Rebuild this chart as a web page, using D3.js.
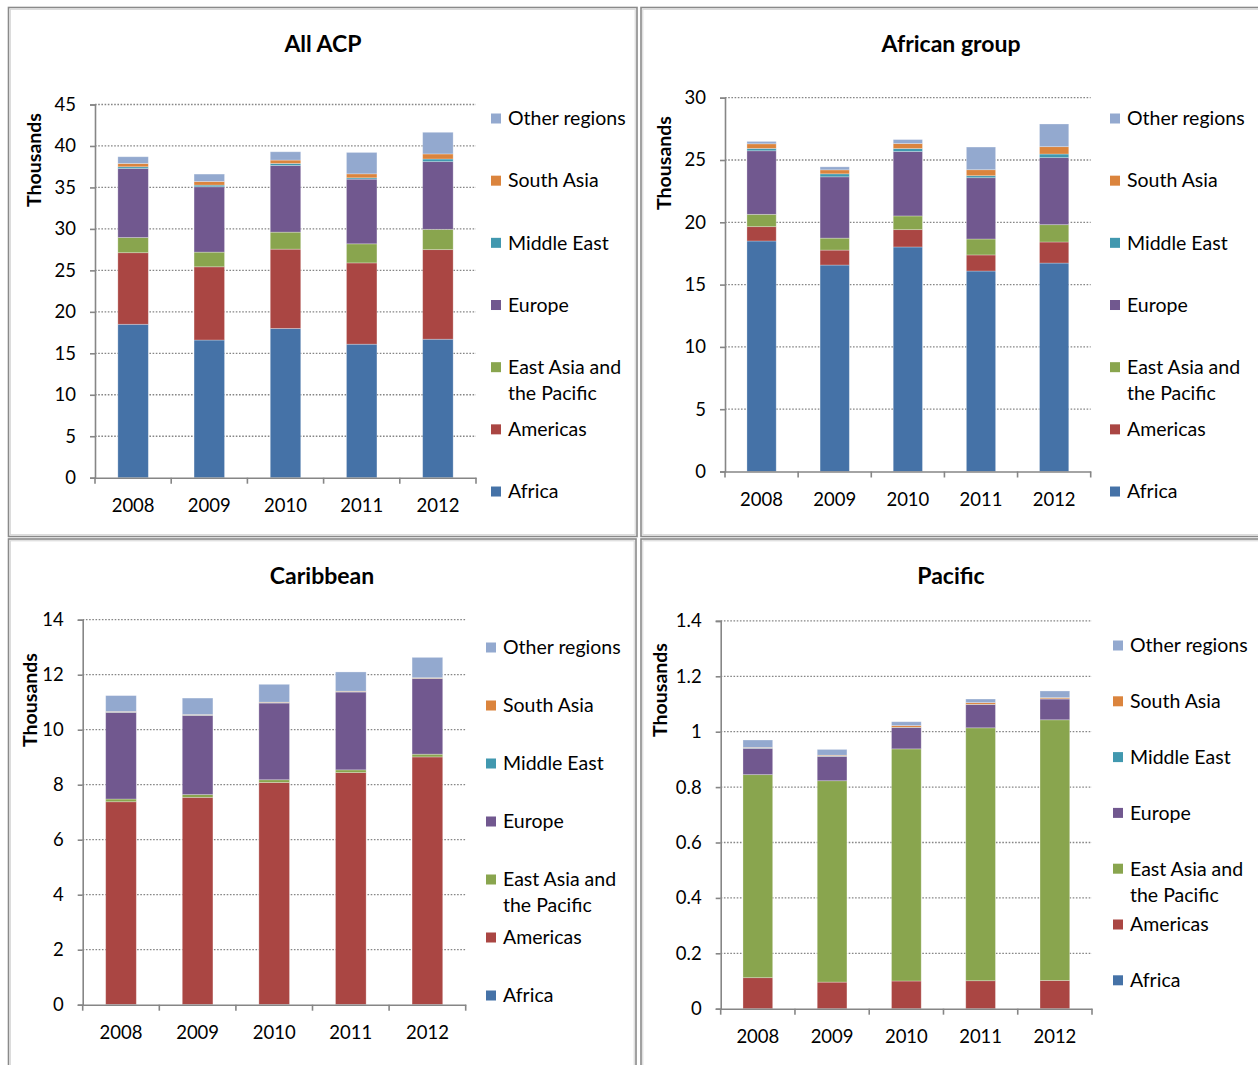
<!DOCTYPE html>
<html>
<head>
<meta charset="utf-8">
<script src="https://cdn.jsdelivr.net/npm/d3@7"></script>
<style>
  html, body { margin: 0; padding: 0; background: #fff; }
  svg { display: block; font-family: Lato, "Open Sans", sans-serif; }
</style>
</head>
<body>
<svg id="chart" width="1258" height="1065"></svg>
<script>
// Years on the category axis
const years = ["2008", "2009", "2010", "2011", "2012"];

// Stack order, bottom to top
const seriesNames = ["Africa", "Americas", "East Asia and the Pacific", "Europe", "Middle East", "South Asia", "Other regions"];

// All ACP (thousands)
const acpAfrica   = [18.5, 16.6, 18.0, 16.1, 16.7];
const acpAmericas = [8.63, 8.83, 9.56, 9.8, 10.8];
const acpEastAsia = [1.83, 1.77, 2.05, 2.3, 2.45];
const acpEurope   = [8.32, 7.88, 8.04, 7.8, 8.16];
const acpMidEast  = [0.21, 0.2, 0.24, 0.16, 0.32];
const acpSouthAsia= [0.4, 0.44, 0.41, 0.48, 0.61];
const acpOther    = [0.81, 0.89, 1.0, 2.58, 2.61];

// African group (thousands)
const afrAfrica   = [18.5, 16.57, 18.02, 16.09, 16.73];
const afrAmericas = [1.15, 1.2, 1.39, 1.29, 1.69];
const afrEastAsia = [0.99, 0.96, 1.1, 1.28, 1.39];
const afrEurope   = [5.1, 4.92, 5.17, 4.92, 5.38];
const afrMidEast  = [0.19, 0.24, 0.24, 0.16, 0.29];
const afrSouthAsia= [0.37, 0.32, 0.4, 0.48, 0.59];
const afrOther    = [0.19, 0.24, 0.32, 1.82, 1.82];

// Caribbean (thousands)
const carAfrica   = [0.01, 0.01, 0.01, 0.01, 0.01];
const carAmericas = [7.37, 7.53, 8.07, 8.43, 9.0];
const carEastAsia = [0.1, 0.1, 0.1, 0.1, 0.1];
const carEurope   = [3.15, 2.88, 2.79, 2.83, 2.75];
const carMidEast  = [0.01, 0.01, 0.01, 0.01, 0.01];
const carSouthAsia= [0.02, 0.02, 0.02, 0.02, 0.02];
const carOther    = [0.58, 0.6, 0.65, 0.7, 0.74];

// Pacific (thousands)
const pacAfrica   = [0.0, 0.0, 0.0, 0.0, 0.0];
const pacAmericas = [0.112, 0.096, 0.1, 0.101, 0.102];
const pacEastAsia = [0.733, 0.727, 0.838, 0.913, 0.941];
const pacEurope   = [0.095, 0.088, 0.077, 0.084, 0.075];
const pacMidEast  = [0.001, 0.001, 0.001, 0.001, 0.001];
const pacSouthAsia= [0.002, 0.003, 0.006, 0.006, 0.004];
const pacOther    = [0.027, 0.021, 0.014, 0.013, 0.024];

const colors = {
  "Africa": "#4572A7",
  "Americas": "#AA4643",
  "East Asia and the Pacific": "#89A54E",
  "Europe": "#71588F",
  "Middle East": "#4198AF",
  "South Asia": "#DB843D",
  "Other regions": "#93A9CF"
};

function rows(series) {
  return years.map((y, i) => {
    const r = { year: y };
    seriesNames.forEach((s, k) => { r[s] = series[k][i]; });
    return r;
  });
}

const panels = [
  { title: "All ACP", data: rows([acpAfrica, acpAmericas, acpEastAsia, acpEurope, acpMidEast, acpSouthAsia, acpOther]),
    max: 45, step: 5, fmt: d3.format("d"),
    left: 95, right: 476, bottom: 477.7, top: 104.5,
    titleX: 323, titleY: 44, yTitleX: 34, yTitleY: 160,
    legendX: 491, legendY: 118.5, legendStep: 62.17,
    frame: [8.5, 7.5, 628.5, 529] },
  { title: "African group", data: rows([afrAfrica, afrAmericas, afrEastAsia, afrEurope, afrMidEast, afrSouthAsia, afrOther]),
    max: 30, step: 5, fmt: d3.format("d"),
    left: 725, right: 1090.7, bottom: 471.5, top: 97.7,
    titleX: 951, titleY: 44, yTitleX: 664, yTitleY: 163,
    legendX: 1110, legendY: 118.5, legendStep: 62.17,
    frame: [641, 7.5, 630, 529] },
  { title: "Caribbean", data: rows([carAfrica, carAmericas, carEastAsia, carEurope, carMidEast, carSouthAsia, carOther]),
    max: 14, step: 2, fmt: d3.format("d"),
    left: 82.7, right: 465.7, bottom: 1004.7, top: 619.7,
    titleX: 322, titleY: 576, yTitleX: 30, yTitleY: 700,
    legendX: 486, legendY: 647.5, legendStep: 58,
    frame: [8.5, 539, 627.5, 540] },
  { title: "Pacific", data: rows([pacAfrica, pacAmericas, pacEastAsia, pacEurope, pacMidEast, pacSouthAsia, pacOther]),
    max: 1.4, step: 0.2, fmt: d => (+d.toFixed(1)).toString(),
    left: 720.7, right: 1092, bottom: 1008.7, top: 620.9,
    titleX: 951, titleY: 576, yTitleX: 660, yTitleY: 690,
    legendX: 1113, legendY: 645.5, legendStep: 55.8,
    frame: [641, 539, 630, 540] }
];

const svg = d3.select("#chart");
const stack = d3.stack().keys(seriesNames);
const axisColor = "#868686";

panels.forEach(p => {
  const g = svg.append("g");

  // Frame: dark outer line with a pale inner line
  const [fx, fy, fw, fh] = p.frame;
  g.append("rect").attr("x", fx).attr("y", fy).attr("width", fw).attr("height", fh)
    .attr("fill", "none").attr("stroke", "#8a8a8a").attr("stroke-width", 1.6);
  g.append("rect").attr("x", fx + 1.8).attr("y", fy + 1.8).attr("width", fw - 3.6).attr("height", fh - 3.6)
    .attr("fill", "none").attr("stroke", "#d4d4d4").attr("stroke-width", 1);

  const x = d3.scaleBand().domain(years).range([p.left, p.right]).paddingInner(0.6).paddingOuter(0.3);
  const y = d3.scaleLinear().domain([0, p.max]).range([p.bottom, p.top]);
  const ticks = d3.range(0, Math.round(p.max / p.step) + 1).map(i => +(i * p.step).toFixed(2));

  // Dotted gridlines
  g.append("g").selectAll("line").data(ticks.slice(1)).join("line")
    .attr("x1", p.left).attr("x2", p.right)
    .attr("y1", d => y(d)).attr("y2", d => y(d))
    .attr("stroke", axisColor).attr("stroke-width", 1.3)
    .attr("stroke-dasharray", "1.6,1.6");

  // Stacked bars
  const layers = stack(p.data);
  g.append("g").selectAll("g").data(layers).join("g")
    .attr("fill", d => colors[d.key])
    .selectAll("rect").data(d => d).join("rect")
      .attr("x", d => x(d.data.year))
      .attr("width", x.bandwidth())
      .attr("y", d => y(d[1]))
      .attr("height", d => Math.max(0, y(d[0]) - y(d[1])))
      .attr("stroke", "rgba(255,255,255,0.35)")
      .attr("stroke-width", 0.8);

  // Y axis
  const yAxis = g.append("g").attr("transform", `translate(${p.left},0)`)
    .call(d3.axisLeft(y).tickValues(ticks).tickFormat(p.fmt).tickSize(5).tickPadding(14));
  yAxis.select(".domain").attr("stroke", axisColor).attr("stroke-width", 1.6);
  yAxis.selectAll(".tick line").attr("stroke", axisColor).attr("stroke-width", 1.6);
  yAxis.selectAll("text").attr("fill", "#000").attr("font-size", 18.5)
    .attr("font-family", "Lato, sans-serif");

  // X axis with ticks at category boundaries
  const xAxis = g.append("g").attr("transform", `translate(0,${p.bottom})`)
    .call(d3.axisBottom(x).tickSize(0).tickPadding(21.5).tickSizeOuter(0));
  xAxis.select(".domain").attr("stroke", axisColor).attr("stroke-width", 1.6);
  xAxis.selectAll("text").attr("fill", "#000").attr("font-size", 18.5)
    .attr("font-family", "Lato, sans-serif");
  const bounds = years.map(yr => x(yr) - x.step() * x.paddingInner() / 2).concat([p.right]);
  bounds[0] = p.left;
  g.append("g").selectAll("line").data(bounds).join("line")
    .attr("x1", d => d).attr("x2", d => d)
    .attr("y1", p.bottom).attr("y2", p.bottom + 6)
    .attr("stroke", axisColor).attr("stroke-width", 1.6);

  // Title
  g.append("text").attr("x", p.titleX).attr("y", p.titleY).attr("dy", "0.35em")
    .attr("text-anchor", "middle").attr("font-weight", "bold").attr("font-size", 23)
    .text(p.title);

  // Y axis title
  g.append("text")
    .attr("transform", `translate(${p.yTitleX},${p.yTitleY}) rotate(-90)`)
    .attr("dy", "0.35em").attr("text-anchor", "middle")
    .attr("font-weight", "bold").attr("font-size", 19.5)
    .text("Thousands");

  // Legend, top to bottom in reverse stack order
  const legendItems = seriesNames.slice().reverse();
  const lg = g.append("g");
  legendItems.forEach((name, i) => {
    const cy = p.legendY + i * p.legendStep;
    lg.append("rect").attr("x", p.legendX).attr("y", cy - 5).attr("width", 10).attr("height", 10)
      .attr("fill", colors[name]);
    const t = lg.append("text").attr("x", p.legendX + 17).attr("y", cy).attr("dy", "0.35em")
      .attr("font-size", 19.5);
    if (name === "East Asia and the Pacific") {
      t.append("tspan").attr("x", p.legendX + 17).text("East Asia and");
      t.append("tspan").attr("x", p.legendX + 17).attr("dy", 26).text("the Pacific");
    } else {
      t.text(name);
    }
  });
});
</script>
</body>
</html>
